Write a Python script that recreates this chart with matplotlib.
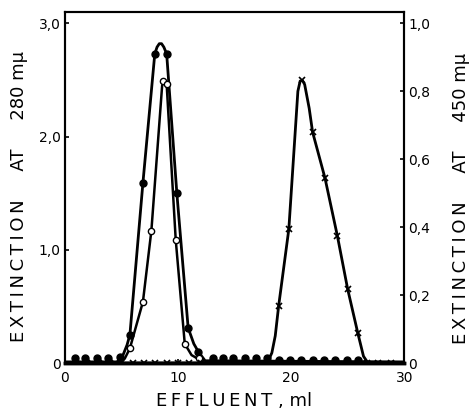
import matplotlib
matplotlib.use("Agg")
from matplotlib import pyplot as plt

# --- data (ml effluent vs extinction) ---
# filled circles, 280 mu (left axis)
filled_x = [0.9, 1.8, 2.8, 3.8, 4.9, 5.75, 6.9, 7.95, 9.0, 9.9, 10.9, 11.8,
            13.1, 14.0, 14.9, 15.9, 16.9, 17.9, 18.9, 19.9, 20.9, 21.9, 22.9,
            23.9, 24.9, 25.9]
filled_y = [0.04, 0.04, 0.04, 0.04, 0.05, 0.25, 1.59, 2.73, 2.73, 1.50, 0.31, 0.10,
            0.04, 0.04, 0.04, 0.04, 0.04, 0.04, 0.03, 0.03, 0.03, 0.03, 0.03,
            0.03, 0.03, 0.03]
filled_curve_x = [0.0, 4.6, 5.1, 5.5, 5.75, 6.9, 7.95, 8.15, 8.35, 8.55, 8.75, 9.0,
                  9.9, 10.9, 11.4, 11.8, 12.4, 30.0]
filled_curve_y = [0.01, 0.01, 0.06, 0.16, 0.25, 1.59, 2.73, 2.79, 2.82, 2.82, 2.79, 2.73,
                  1.50, 0.31, 0.17, 0.10, 0.02, 0.01]

# open circles, 280 mu (left axis)
open_x = [5.75, 6.9, 7.65, 8.7, 9.0, 9.8, 10.6, 11.9]
open_y = [0.13, 0.54, 1.17, 2.49, 2.46, 1.09, 0.17, 0.04]
open_curve_x = [4.9, 5.3, 5.75, 6.9, 7.65, 8.6, 8.75, 8.95, 9.0, 9.8, 10.6, 11.2, 11.9, 12.3]
open_curve_y = [0.0, 0.04, 0.13, 0.54, 1.17, 2.45, 2.49, 2.48, 2.46, 1.09, 0.17, 0.07, 0.03, 0.0]

# crosses, 450 mu (right axis)
cross_x = [1, 2, 3, 4, 5, 6, 7, 8, 9, 10, 11, 12, 13, 14, 15, 16, 17,
           18.9, 19.8, 21.0, 21.9, 23.0, 24.1, 25.0, 25.9, 26.7, 27.7, 28.8]
cross_y = [0.0] * 17 + [0.168, 0.394, 0.832, 0.68, 0.544, 0.373, 0.218, 0.088,
                        0.0, 0.0, 0.0]
cross_curve_x = [0.0, 17.9, 18.3, 18.6, 18.9, 19.8, 20.6, 20.8, 21.0, 21.2, 21.6, 21.9,
                 23.0, 24.1, 25.0, 25.9, 26.4, 26.8, 30.0]
cross_curve_y = [0.0, 0.0, 0.03, 0.08, 0.168, 0.394, 0.80, 0.83, 0.832, 0.82, 0.75, 0.68,
                 0.544, 0.373, 0.218, 0.088, 0.02, 0.0, 0.0]

x_ticks = [0, 10, 20, 30]
left_ticks = [0, 1, 2, 3]
left_labels = ["0", "1,0", "2,0", "3,0"]
right_ticks = [0, 0.2, 0.4, 0.6, 0.8, 1.0]
right_labels = ["0", "0,2", "0,4", "0,6", "0,8", "1,0"]


def spaced(text):
    # old typewriter-ish lettering: thin space between letters
    return "\u2009".join(text)


plt.rcParams["font.family"] = ["DejaVu Sans"]

fig = plt.figure(figsize=(4.7, 4.13), dpi=100)
ax = fig.add_axes([0.138, 0.121, 0.722, 0.850])
ax2 = ax.twinx()

ax.plot(filled_curve_x, filled_curve_y, color="black", lw=2.0, zorder=3)
ax.plot(filled_x, filled_y, "o", color="black", ms=5, zorder=4)
ax.plot(open_curve_x, open_curve_y, color="black", lw=1.8, zorder=3)
ax.plot(open_x, open_y, "o", mfc="white", mec="black", mew=1.0, ms=4.5, zorder=5)

ax2.plot(cross_curve_x, cross_curve_y, color="black", lw=2.0, zorder=3)
ax2.plot(cross_x, cross_y, "x", color="black", ms=4, mew=1.2, zorder=4)

ax.set_xlim(0, 30)
ax.set_ylim(0, 3.1)
ax2.set_ylim(0, 3.1 / 3)

ax.set_xticks(x_ticks)
ax.set_xticklabels([str(t) for t in x_ticks])
ax.set_yticks(left_ticks)
ax.set_yticklabels(left_labels)
ax2.set_yticks(right_ticks)
ax2.set_yticklabels(right_labels)

for a in (ax, ax2):
    for s in a.spines.values():
        s.set_linewidth(1.5)
    a.spines["bottom"].set_linewidth(2.5)
    a.tick_params(direction="in", length=3, width=1.2, labelsize=10, pad=3)
ax.tick_params(axis="x", pad=6)

gap = "     "
ax.set_xlabel(spaced("EFFLUENT") + " , ml", fontsize=13, labelpad=5)
ax.set_ylabel(spaced("EXTINCTION") + gap + "AT" + gap + "280 m\u03bc", fontsize=13)
ax2.set_ylabel(spaced("EXTINCTION") + gap + "AT" + gap + "450 m\u03bc", fontsize=13)
ax.yaxis.set_label_coords(-0.11, 0.475)
ax2.yaxis.set_label_coords(1.14, 0.47)

fig.savefig("out.png", dpi=100)
